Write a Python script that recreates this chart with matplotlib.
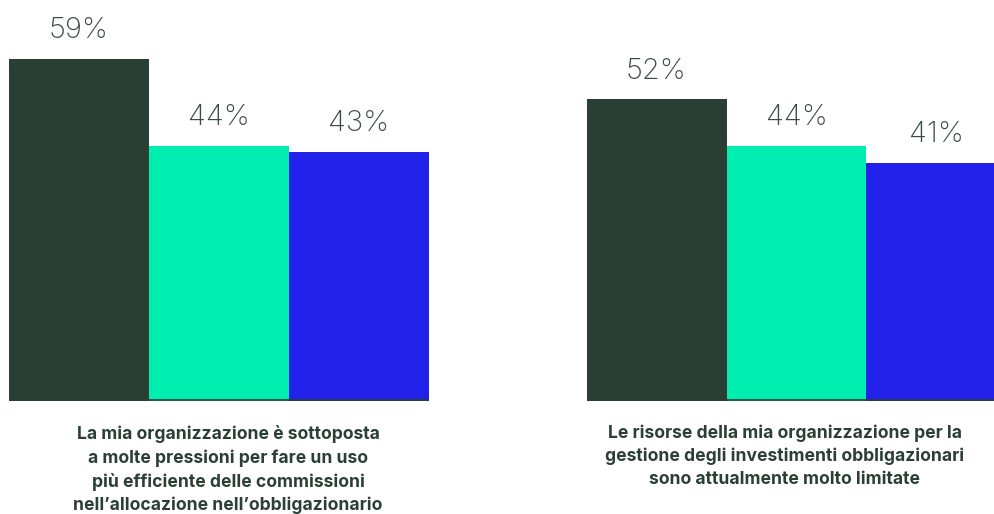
import matplotlib
matplotlib.use("Agg")
import matplotlib.pyplot as plt

# Survey statements and share of respondents per segment
categories = [
    "La mia organizzazione è sottoposta\na molte pressioni per fare un uso\npiù efficiente delle commissioni\nnell’allocazione nell’obbligazionario",
    "Le risorse della mia organizzazione per la\ngestione degli investimenti obbligazionari\nsono attualmente molto limitate",
]
series_a = [59, 52]
series_b = [44, 44]
series_c = [43, 41]
value_labels = [["59%", "44%", "43%"], ["52%", "44%", "41%"]]

colors = ["#293f33", "#00efb1", "#2121ea"]
text_dark = "#2b3f35"
label_grey = "#3b4a42"

W, H, DPI = 995, 514, 100
fig = plt.figure(figsize=(W / DPI, H / DPI), dpi=DPI)
fig.patch.set_facecolor("white")

base_px = 401
px_per_pct = 5.8
ax = fig.add_axes([0, (H - base_px) / H, 1, base_px / H])
ax.set_facecolor("none")

group_gap_px = 578.0
bar_w = 140.0 / group_gap_px
x0 = -218.5 / group_gap_px
ax.set_xlim(x0, x0 + W / group_gap_px)
ax.set_ylim(0, base_px / px_per_pct)

offsets = [-bar_w, 0.0, bar_w]
all_series = [series_a, series_b, series_c]
for g in range(len(categories)):
    for s, (vals, col) in enumerate(zip(all_series, colors)):
        x = g + offsets[s]
        ax.bar(x, vals[g], width=bar_w, color=col, linewidth=0)
        ax.annotate(value_labels[g][s], (x, vals[g]), xytext=(0, 15),
                    textcoords="offset points", ha="center", va="baseline",
                    fontsize=21, fontfamily="Inter", fontweight="light",
                    color=label_grey)
    ax.hlines(0.15, g - 1.5 * bar_w, g + 1.5 * bar_w, color=text_dark, lw=1.2)

for s in ax.spines.values():
    s.set_visible(False)
ax.set_xticks([])
ax.set_yticks([])

label_x_px = [228, 785]
label_top_px = [425, 424]
for g, txt in enumerate(categories):
    fig.text(label_x_px[g] / W, 1 - label_top_px[g] / H, txt, ha="center", va="top",
             fontsize=12.6, fontfamily="Inter", fontweight="bold",
             color=text_dark, linespacing=1.45)

fig.savefig("out.png", dpi=DPI, facecolor="white")
